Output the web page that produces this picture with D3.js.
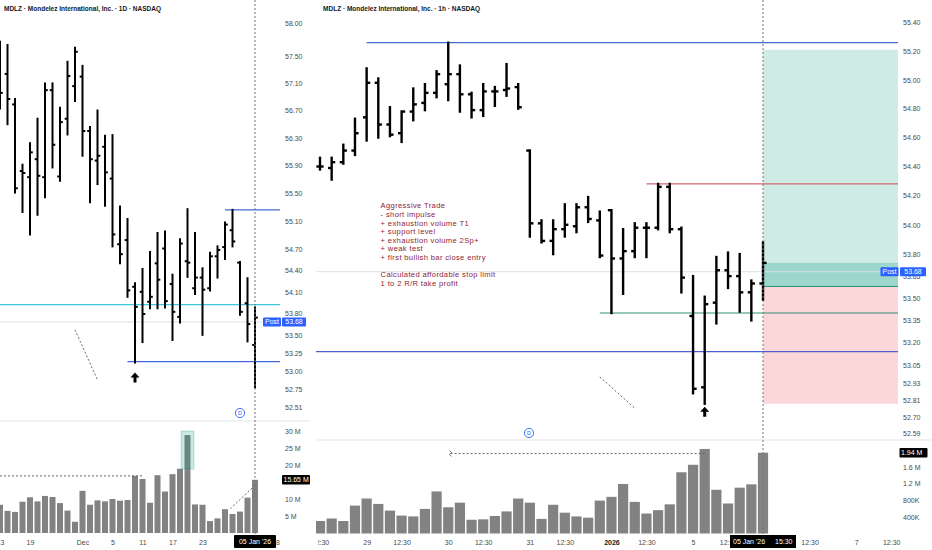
<!DOCTYPE html>
<html>
<head>
<meta charset="utf-8">
<script src="https://cdn.jsdelivr.net/npm/d3@7"></script>
<style>
  body { margin: 0; background: #fff; }
  svg { display: block; font-family: "Liberation Sans", Arial, sans-serif; }
</style>
</head>
<body>
<script>
// ---- daily bars, 13 Nov 2025 .. 05 Jan 2026 ----
const dailyOpen  = [57.50, 57.24, 56.79, 55.82, 55.73, 55.99, 55.73, 57.00, 55.74, 56.58, 57.06, 57.20, 56.40, 55.97, 56.17, 55.71, 54.77, 54.83, 54.17, 54.10, 53.96, 54.50, 54.71, 54.21, 53.75, 54.53, 54.15, 54.30, 54.15, 54.60, 54.73, 54.97, 54.51, 53.94, 53.36];
const dailyHigh  = [57.72, 57.67, 56.87, 55.91, 56.22, 56.58, 57.10, 57.10, 56.74, 57.42, 57.63, 57.36, 56.46, 56.70, 56.33, 56.34, 55.31, 55.13, 54.22, 54.42, 54.66, 54.93, 54.95, 54.34, 54.84, 55.27, 54.93, 54.43, 54.65, 54.74, 55.08, 55.26, 54.52, 54.29, 53.88];
const dailyLow   = [56.73, 56.50, 55.51, 55.23, 54.91, 55.19, 55.44, 55.87, 55.68, 56.35, 56.84, 56.04, 55.37, 55.63, 55.32, 54.74, 54.50, 54.03, 53.12, 53.40, 53.87, 53.87, 53.88, 53.43, 53.67, 54.31, 54.07, 53.50, 54.12, 54.30, 54.56, 54.74, 53.78, 53.41, 52.78];
const dailyClose = [56.96, 56.87, 55.57, 55.79, 56.09, 55.75, 57.00, 56.20, 56.53, 57.21, 57.57, 56.40, 55.99, 56.04, 55.80, 54.91, 54.63, 54.12, 53.89, 53.79, 54.03, 54.27, 53.97, 53.82, 54.78, 54.51, 54.30, 54.13, 54.60, 54.69, 55.05, 54.81, 53.82, 53.65, 53.74];
// volume in millions
const dailyVolume = [8.3, 6.5, 6.2, 9.2, 10.5, 9.3, 10.9, 10.6, 8.8, 6.6, 3.3, 12.4, 8.3, 9.6, 9.3, 10.0, 9.5, 9.7, 16.8, 15.9, 8.9, 17.0, 12.2, 17.3, 18.9, 28.8, 8.4, 8.3, 3.5, 4.3, 7.0, 5.6, 6.3, 10.4, 15.65];

// ---- hourly bars, 26 Dec 12:30 .. 05 Jan 15:30 ----
const hourlyOpen  = [54.40, 54.39, 54.43, 54.51, 54.74, 54.98, 54.69, 54.63, 54.78, 54.84, 54.91, 54.97, 55.04, 54.90, 54.79, 54.92, 54.93, 54.95, 54.51, 54.01, 53.89, 53.97, 53.99, 54.12, 54.03, 54.10, 53.77, 53.82, 53.98, 53.98, 54.26, 53.97, 53.38, 52.90, 53.47, 53.69, 53.65, 53.54, 53.60];
const hourlyHigh  = [54.46, 54.46, 54.55, 54.73, 55.08, 55.01, 54.81, 54.78, 54.94, 54.97, 55.06, 55.26, 55.10, 54.91, 54.97, 54.95, 55.11, 54.97, 54.51, 54.03, 54.03, 54.14, 54.14, 54.19, 54.09, 54.10, 53.97, 54.01, 54.01, 54.28, 54.28, 53.98, 53.65, 53.51, 53.78, 53.81, 53.80, 53.62, 53.88];
const hourlyLow   = [54.38, 54.31, 54.42, 54.48, 54.58, 54.60, 54.61, 54.57, 54.72, 54.79, 54.88, 54.86, 54.78, 54.74, 54.75, 54.82, 54.89, 54.80, 53.92, 53.88, 53.80, 53.92, 53.95, 54.02, 53.78, 53.40, 53.53, 53.78, 53.78, 53.97, 53.95, 53.54, 52.86, 52.79, 53.33, 53.57, 53.41, 53.35, 53.49];
const hourlyClose = [54.40, 54.43, 54.51, 54.63, 54.98, 54.69, 54.62, 54.78, 54.83, 54.91, 55.04, 55.04, 54.90, 54.79, 54.92, 54.92, 54.94, 54.81, 54.01, 53.89, 53.97, 54.00, 54.12, 54.04, 53.79, 53.77, 53.82, 53.98, 53.98, 54.26, 53.97, 53.64, 52.89, 53.46, 53.69, 53.65, 53.54, 53.60, 53.74];
const hourlyVolume = [0.30, 0.36, 0.30, 0.67, 0.84, 0.71, 0.55, 0.43, 0.41, 0.59, 1.01, 0.63, 0.74, 0.33, 0.34, 0.42, 0.53, 0.84, 0.74, 0.35, 0.69, 0.50, 0.41, 0.38, 0.79, 0.88, 1.19, 0.76, 0.48, 0.56, 0.70, 1.47, 1.65, 2.03, 1.05, 0.72, 1.10, 1.18, 1.94];

// ---- axis ticks ----
const dailyPriceTicks  = [58.00, 57.50, 57.10, 56.70, 56.30, 55.90, 55.50, 55.10, 54.70, 54.40, 54.10, 53.80, 53.50, 53.25, 53.00, 52.75, 52.51];
const hourlyPriceTicks = [55.40, 55.20, 55.00, 54.80, 54.60, 54.40, 54.20, 54.00, 53.80, 53.65, 53.50, 53.35, 53.20, 53.05, 52.93, 52.81, 52.70, 52.59];
const dailyVolTicks  = [5, 10, 20, 25, 30];
const hourlyVolTicks = [0.4, 0.8, 1.2, 1.6];
const dailyTimeIdx  = [0, 4, 11, 15, 19, 23, 27, 37];
const dailyTimeLbl  = ['13', '19', 'Dec', '5', '11', '17', '23', '8'];
const hourlyTimeIdx = [0, 4, 7, 11, 14, 18, 21, 25, 28, 32, 35, 42, 46, 49];
const hourlyTimeLbl = ['12:30', '29', '12:30', '30', '12:30', '31', '12:30', '2026', '12:30', '5', '12:30', '12:30', '7', '12:30'];

// ---- drawn levels ----
const postPrice = 53.68;
const dailyLevels  = [55.26, 53.92, 53.13];          // resistance, cyan, support
const hourlyLevels = [55.26, 54.28, 53.40, 53.14];   // resistance, stop swing, support, support
const positionLevels = [55.21, 53.58, 52.79];        // target, entry, stop

const noteLines = ['Aggressive Trade', '- short impulse', '+ exhaustion volume T1', '+ support level',
  '+ exhaustion volume 2Sp+', '+ weak test', '+ first bullish bar close entry', '',
  'Calculated affordable stop limit', '1 to 2 R/R take profit'];

const draw = () => {
  const width = 932, height = 550;
  const svg = d3.select('body').append('svg')
    .attr('width', width).attr('height', height);

  const defs = svg.append('defs');
  const clip = (id, x, w) => defs.append('clipPath').attr('id', id)
    .append('rect').attr('x', x).attr('y', 0).attr('width', w).attr('height', height);
  clip('clipL', 0, 280);
  clip('clipR', 316, 582);
  clip('clipLt', 0, 283);
  clip('clipRt', 318, 614);

  // scales
  const xL = d3.scaleLinear().domain([0, 34]).range([0, 255]);
  const yL = d3.scaleLog().domain([52.51, 58]).range([407, 23]);
  const vL = d3.scaleLinear().domain([0, 30]).range([533, 431]);
  const xR = d3.scaleLinear().domain([0, 38]).range([320, 763]);
  const yR = d3.scaleLog().domain([52.59, 55.40]).range([433.7, 22.7]);
  const vR = d3.scaleLinear().domain([0, 2]).range([533.5, 450.2]);

  const gL = svg.append('g').attr('clip-path', 'url(#clipL)');
  const gR = svg.append('g').attr('clip-path', 'url(#clipR)');

  // pane separators
  svg.append('line').attr('x1', 0).attr('x2', 310).attr('y1', 421).attr('y2', 421).attr('stroke', '#e3e5ea');
  svg.append('line').attr('x1', 316).attr('x2', 932).attr('y1', 440).attr('y2', 440).attr('stroke', '#e3e5ea');

  // position tool (long)
  const posX0 = xR(38), posX1 = 898;
  gR.append('rect').attr('x', posX0).attr('width', posX1 - posX0)
    .attr('y', yR(positionLevels[0])).attr('height', yR(positionLevels[1]) - yR(positionLevels[0]))
    .attr('fill', 'rgba(8,153,129,0.2)');
  gR.append('rect').attr('x', posX0).attr('width', posX1 - posX0)
    .attr('y', yR(positionLevels[1])).attr('height', yR(positionLevels[2]) - yR(positionLevels[1]))
    .attr('fill', 'rgba(242,54,69,0.2)');
  gR.append('rect').attr('x', posX0).attr('width', posX1 - posX0)
    .attr('y', yR(hourlyClose[38])).attr('height', yR(positionLevels[1]) - yR(hourlyClose[38]))
    .attr('fill', 'rgba(8,153,129,0.25)');
  gR.append('line').attr('x1', posX0).attr('x2', posX1)
    .attr('y1', yR(positionLevels[1])).attr('y2', yR(positionLevels[1]))
    .attr('stroke', '#2f8f72').attr('stroke-width', 1);

  // post price lines
  gL.append('line').attr('x1', 0).attr('x2', 280).attr('y1', yL(postPrice)).attr('y2', yL(postPrice)).attr('stroke', '#dcdfe6');
  gR.append('line').attr('x1', 316).attr('x2', 898).attr('y1', yR(postPrice)).attr('y2', yR(postPrice)).attr('stroke', '#dcdfe6');

  // horizontal levels
  const hline = (g, y, x1, x2, color, w = 1.2) => g.append('line')
    .attr('x1', x1).attr('x2', x2).attr('y1', y).attr('y2', y)
    .attr('stroke', color).attr('stroke-width', w);
  hline(gL, yL(dailyLevels[0]), xL(30), 280, '#3f6bd6');
  hline(gL, yL(dailyLevels[1]), 0, 280, '#3cc8d8', 1.4);
  hline(gL, yL(dailyLevels[2]), xL(17), 280, '#3f6bd6');
  hline(gR, yR(hourlyLevels[0]), xR(4), 898, '#3f6bd6');
  hline(gR, yR(hourlyLevels[1]), xR(28), 898, '#d06673');
  hline(gR, yR(hourlyLevels[2]), xR(24), 898, '#2f8f72');
  hline(gR, yR(hourlyLevels[3]), 316, 898, '#4c5fcf');

  // volume bars
  const volBars = (g, x, v, vals, w) => g.append('g').selectAll('rect')
    .data(vals).join('rect')
    .attr('x', (d, i) => x(i) - w / 2).attr('width', w)
    .attr('y', d => v(d)).attr('height', d => v(0) - v(d))
    .attr('fill', '#828282');
  volBars(gL, xL, vL, dailyVolume, 6);
  volBars(gR, xR, vR, hourlyVolume, 10.2);

  // OHLC bars
  const ohlc = (g, x, y, o, h, l, c, sw, tk) => {
    const bar = g.append('g').selectAll('g').data(d3.range(o.length)).join('g')
      .attr('stroke', '#000').attr('stroke-width', sw);
    bar.append('line').attr('x1', i => x(i)).attr('x2', i => x(i))
      .attr('y1', i => y(h[i]) - sw / 2).attr('y2', i => y(l[i]) + sw / 2);
    bar.append('line').attr('x1', i => x(i) - tk).attr('x2', i => x(i))
      .attr('y1', i => y(o[i])).attr('y2', i => y(o[i]));
    bar.append('line').attr('x1', i => x(i)).attr('x2', i => x(i) + tk)
      .attr('y1', i => y(c[i])).attr('y2', i => y(c[i]));
  };
  ohlc(gL, xL, yL, dailyOpen, dailyHigh, dailyLow, dailyClose, 2, 2.8);
  ohlc(gR, xR, yR, hourlyOpen, hourlyHigh, hourlyLow, hourlyClose, 2.4, 3.6);

  // volume highlight + dashed measures
  gL.append('rect').attr('x', xL(24.15)).attr('width', xL(25.85) - xL(24.15))
    .attr('y', vL(30)).attr('height', vL(18.8) - vL(30))
    .attr('fill', 'rgba(8,153,129,0.22)').attr('stroke', 'rgba(8,153,129,0.25)');
  const dash = (g, x1, y1, x2, y2) => g.append('line')
    .attr('x1', x1).attr('y1', y1).attr('x2', x2).attr('y2', y2)
    .attr('stroke', '#555').attr('stroke-width', 0.9).attr('stroke-dasharray', '2,2');
  dash(gL, 0, vL(16.8), xL(19), vL(16.8));
  dash(gL, xL(30.7), vL(7.1), xL(34), vL(14));
  dash(gL, xL(10), yL(53.57), xL(13), yL(52.88));
  dash(gR, xR(11.2), vR(1.92), xR(33), vR(1.92));
  dash(gR, xR(24), yR(52.97), xR(27), yR(52.76));
  gR.append('path').attr('fill', 'none').attr('stroke', '#555').attr('stroke-width', 0.8)
    .attr('d', `M${xR(11.2) - 1},${vR(1.92) - 3}l2,2l-2,2l2,2`);

  // arrows under the lows
  const arrow = (g, x, yTop) => {
    g.append('path').attr('fill', '#000')
      .attr('d', `M${x},${yTop}l4.5,5h-3v5h-3v-5h-3z`);
  };
  arrow(gL, xL(18), yL(dailyLow[18]) + 10);
  arrow(gR, xR(33), yR(hourlyLow[33]) + 3);

  // dividend markers
  const dMark = (x, y) => {
    svg.append('circle').attr('cx', x).attr('cy', y).attr('r', 4.6)
      .attr('fill', '#fff').attr('stroke', '#2962ff').attr('stroke-width', 0.9);
    svg.append('text').attr('x', x).attr('y', y).attr('dy', '0.35em')
      .attr('text-anchor', 'middle').attr('font-size', 5.5).attr('fill', '#2962ff').text('D');
  };
  dMark(240, 413);
  dMark(529, 433);

  // crosshair
  svg.append('line').attr('x1', xL(34)).attr('x2', xL(34)).attr('y1', 0).attr('y2', 536)
    .attr('stroke', '#777').attr('stroke-dasharray', '2,2');
  svg.append('line').attr('x1', xR(38)).attr('x2', xR(38)).attr('y1', 0).attr('y2', 536)
    .attr('stroke', '#777').attr('stroke-dasharray', '2,2');

  // trade note
  svg.append('g').selectAll('text').data(noteLines).join('text')
    .attr('x', xR(5.2)).attr('y', (d, i) => yR(54.13) + i * 8.6)
    .attr('dy', '0.35em').attr('font-size', 7.6).attr('letter-spacing', 0.35)
    .attr('fill', '#8e2436').text(d => d);

  // titles
  svg.append('text').attr('x', 4).attr('y', 8.5).attr('dy', '0.35em')
    .attr('font-size', 7).attr('font-weight', 600).attr('fill', '#131722')
    .attr('textLength', 157).attr('lengthAdjust', 'spacingAndGlyphs')
    .text('MDLZ · Mondelez International, Inc. · 1D · NASDAQ');
  svg.append('text').attr('x', 323).attr('y', 8.5).attr('dy', '0.35em')
    .attr('font-size', 7).attr('font-weight', 600).attr('fill', '#131722')
    .attr('textLength', 157).attr('lengthAdjust', 'spacingAndGlyphs')
    .text('MDLZ · Mondelez International, Inc. · 1h · NASDAQ');

  // axes
  const styleAxis = g => {
    g.select('.domain').remove();
    g.selectAll('.tick line').remove();
    g.selectAll('text').attr('font-size', 7).attr('fill', '#4a4a4a')
      .attr('font-family', '"Liberation Sans", Arial, sans-serif');
  };
  svg.append('g').attr('transform', 'translate(285,0)')
    .call(d3.axisRight(yL).tickValues(dailyPriceTicks).tickFormat(d3.format('.2f')).tickSize(0).tickPadding(0))
    .call(styleAxis);
  svg.append('g').attr('transform', 'translate(903,0)')
    .call(d3.axisRight(yR).tickValues(hourlyPriceTicks).tickFormat(d3.format('.2f')).tickSize(0).tickPadding(0))
    .call(styleAxis);
  svg.append('g').attr('transform', 'translate(285,0)')
    .call(d3.axisRight(vL).tickValues(dailyVolTicks).tickFormat(d => d + ' M').tickSize(0).tickPadding(0))
    .call(styleAxis);
  svg.append('g').attr('transform', 'translate(903,0)')
    .call(d3.axisRight(vR).tickValues(hourlyVolTicks)
      .tickFormat(d => d >= 1 ? d + ' M' : Math.round(d * 1000) + 'K').tickSize(0).tickPadding(0))
    .call(styleAxis);

  svg.append('g').attr('clip-path', 'url(#clipLt)').append('g')
    .attr('transform', 'translate(0,540.5)')
    .call(d3.axisBottom(xL).tickValues(dailyTimeIdx).tickFormat((d, i) => dailyTimeLbl[i]).tickSize(0).tickPadding(0))
    .call(styleAxis);
  const tR = svg.append('g').attr('clip-path', 'url(#clipRt)').append('g')
    .attr('transform', 'translate(0,540.5)')
    .call(d3.axisBottom(xR).tickValues(hourlyTimeIdx).tickFormat((d, i) => hourlyTimeLbl[i]).tickSize(0).tickPadding(0))
    .call(styleAxis);
  tR.selectAll('text').filter(d => hourlyTimeLbl[hourlyTimeIdx.indexOf(d)] === '2026')
    .attr('font-weight', 'bold').attr('fill', '#131722');

  // labels on axes
  const label = (x, y, w, h, txt, bg, anchor = 'middle') => {
    svg.append('rect').attr('x', x).attr('y', y - h / 2).attr('width', w).attr('height', h)
      .attr('rx', 1).attr('fill', bg);
    svg.append('text').attr('x', anchor === 'middle' ? x + w / 2 : x + 1.5).attr('y', y)
      .attr('dy', '0.35em').attr('text-anchor', anchor)
      .attr('font-size', 7).attr('fill', '#fff').text(txt);
  };
  label(263, yL(postPrice), 18, 9, 'Post', '#2962ff');
  label(282, yL(postPrice), 24, 9, d3.format('.2f')(postPrice), '#2962ff');
  label(880.5, yR(postPrice), 18, 9, 'Post', '#2962ff');
  label(900, yR(postPrice), 26, 9, d3.format('.2f')(postPrice), '#2962ff');
  label(282, vL(dailyVolume[34]), 28, 9.5, dailyVolume[34] + ' M', '#000', 'start');
  label(899.5, vR(hourlyVolume[38]), 28, 9.5, hourlyVolume[38] + ' M', '#000', 'start');
  label(xL(34) - 21, 541.5, 42, 13, "05 Jan '26", '#000');
  svg.append('rect').attr('x', 730).attr('y', 535).attr('width', 66).attr('height', 13).attr('fill', '#000');
  svg.append('text').attr('x', 733).attr('y', 541.5).attr('dy', '0.35em').attr('font-size', 7)
    .attr('fill', '#fff').text("05 Jan '26");
  svg.append('text').attr('x', 775).attr('y', 541.5).attr('dy', '0.35em').attr('font-size', 7)
    .attr('fill', '#fff').text('15:30');
};

draw();
</script>
</body>
</html>
